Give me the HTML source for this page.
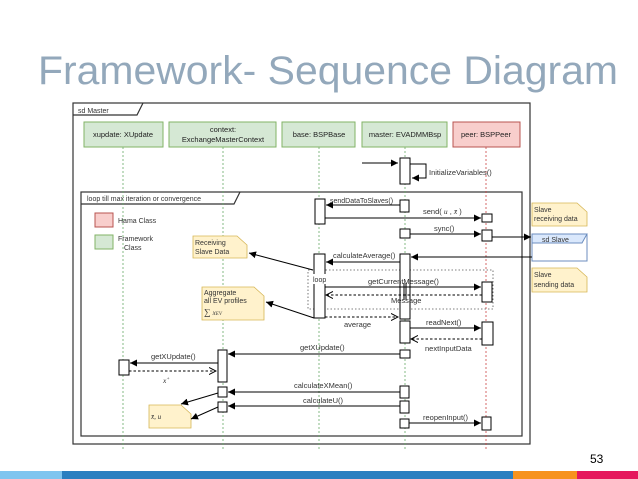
<!DOCTYPE html>
<html><head><meta charset="utf-8"><style>
body{margin:0;background:#fff;}
svg{display:block;font-family:"Liberation Sans",sans-serif;}
</style></head><body>
<svg width="638" height="479" viewBox="0 0 638 479" xmlns="http://www.w3.org/2000/svg">
<defs>
<marker id="a" markerWidth="8" markerHeight="8" refX="7" refY="4" orient="auto" markerUnits="userSpaceOnUse"><path d="M0,0.5 L7,4 L0,7.5z" fill="#000"/></marker>
<marker id="o" markerWidth="8" markerHeight="8" refX="7" refY="4" orient="auto" markerUnits="userSpaceOnUse"><path d="M0,0.5 L7,4 L0,7.5" fill="none" stroke="#000" stroke-width="1"/></marker>
</defs>
<text x="38" y="84" font-size="40" fill="#93a8bb" textLength="580" lengthAdjust="spacingAndGlyphs">Framework- Sequence Diagram</text>
<text x="590" y="463" font-size="12" fill="#000">53</text>
<rect x="0" y="471" width="62" height="8" fill="#7fc5ef"/>
<rect x="62" y="471" width="451" height="8" fill="#2a7fc0"/>
<rect x="513" y="471" width="64" height="8" fill="#f7931e"/>
<rect x="577" y="471" width="61" height="8" fill="#e5185d"/>

<g stroke="#333" fill="none" stroke-width="1.2">
<rect x="73" y="103" width="457" height="341"/>
<path d="M73,115 H137 L143,103"/>
<rect x="81" y="192" width="441" height="244"/>
<path d="M81,204 H234 L240,192"/>
</g>
<text x="78" y="113" font-size="7" fill="#333">sd Master</text>
<text x="87" y="201" font-size="7" fill="#333">loop till max iteration or convergence</text>

<g stroke-dasharray="2,2" stroke-width="0.8">
<line x1="123" y1="147" x2="123" y2="450" stroke="#6a6"/>
<line x1="223" y1="147" x2="223" y2="450" stroke="#6a6"/>
<line x1="319" y1="147" x2="319" y2="450" stroke="#6a6"/>
<line x1="405" y1="147" x2="405" y2="450" stroke="#6a6"/>
<line x1="486" y1="147" x2="486" y2="450" stroke="#c44"/>
</g>

<g stroke="#82b366" fill="#d5e8d4" stroke-width="1">
<rect x="84" y="122" width="79" height="25"/>
<rect x="169" y="122" width="107" height="25"/>
<rect x="282" y="122" width="73" height="25"/>
<rect x="362" y="122" width="85" height="25"/>
</g>
<rect x="453" y="122" width="67" height="25" fill="#f8cecc" stroke="#b85450"/>
<g font-size="7.5" fill="#222" text-anchor="middle">
<text x="123" y="137">xupdate: XUpdate</text>
<text x="223" y="132">context:</text>
<text x="223" y="142">ExchangeMasterContext</text>
<text x="319" y="137">base: BSPBase</text>
<text x="405" y="137">master: EVADMMBsp</text>
<text x="486" y="137">peer: BSPPeer</text>
</g>

<rect x="95" y="213" width="18" height="14" fill="#f8cecc" stroke="#b85450"/>
<rect x="95" y="235" width="18" height="14" fill="#d5e8d4" stroke="#82b366"/>
<g font-size="7" fill="#333">
<text x="118" y="223">Hama Class</text>
<text x="118" y="241">Framework</text>
<text x="124" y="250">Class</text>
</g>

<g fill="#fff2cc" stroke="#d6b656" stroke-width="0.8">
<path d="M193,236 H237 L247,245 V258 H193z"/>
<path d="M202,287 H254 L264,296 V320 H202z"/>
<path d="M149,405 H181 L191,414 V428 H149z"/>
<path d="M532,203 H577 L587,212 V226 H532z"/>
<path d="M532,268 H577 L587,277 V292 H532z"/>
</g>
<g font-size="7" fill="#333">
<text x="195" y="245">Receiving</text><text x="195" y="254">Slave Data</text>
<text x="204" y="295">Aggregate</text><text x="204" y="303">all EV profiles</text>
<text x="204" y="315" font-family="Liberation Serif" font-size="9">∑ <tspan font-style="italic" font-size="7">x<tspan font-size="5">EV</tspan></tspan></text>
<text x="151" y="419" font-family="Liberation Serif" font-style="italic">x̄, u</text>
<text x="534" y="212">Slave</text><text x="534" y="221">receiving data</text>
<text x="534" y="277">Slave</text><text x="534" y="287">sending data</text>
</g>

<rect x="532" y="234" width="55" height="27" fill="#fff" stroke="#6c8ebf"/>
<path d="M532,234 H587 L582,243 H532z" fill="#dae8fc" stroke="#6c8ebf"/>
<text x="542" y="242" font-size="7" fill="#333">sd Slave</text>

<rect x="308" y="270" width="185" height="39" fill="none" stroke="#555" stroke-dasharray="1.5,2" stroke-width="0.8"/>

<g fill="#fff" stroke="#000" stroke-width="1">
<rect x="400" y="158" width="10" height="26"/>
<rect x="400" y="200" width="9" height="12"/>
<rect x="315" y="199" width="10" height="25"/>
<rect x="482" y="214" width="10" height="8"/>
<rect x="400" y="229" width="10" height="9"/>
<rect x="482" y="230" width="10" height="11"/>
<rect x="400" y="254" width="10" height="65"/>
<rect x="314" y="254" width="11" height="64"/>
<rect x="482" y="282" width="10" height="20"/>
<rect x="400" y="321" width="10" height="22"/>
<rect x="482" y="322" width="11" height="23"/>
<rect x="400" y="350" width="10" height="8"/>
<rect x="218" y="350" width="9" height="32"/>
<rect x="119" y="360" width="10" height="15"/>
<rect x="218" y="387" width="9" height="10"/>
<rect x="400" y="386" width="9" height="12"/>
<rect x="218" y="402" width="9" height="10"/>
<rect x="400" y="401" width="9" height="12"/>
<rect x="400" y="419" width="9" height="9"/>
<rect x="482" y="417" width="9" height="13"/>
</g>
<line x1="404" y1="283" x2="404" y2="300" stroke="#000"/>
<line x1="406" y1="283" x2="406" y2="300" stroke="#000"/>
<rect x="310" y="274" width="21" height="10" fill="#fff"/>
<text x="313" y="282" font-size="7" fill="#333">loop</text>

<g stroke="#000" stroke-width="1" fill="none">
<line x1="362" y1="163" x2="398" y2="163" marker-end="url(#a)"/>
<path d="M410,164 H426 V178 H412" marker-end="url(#a)"/>
<line x1="400" y1="205" x2="326" y2="205" marker-end="url(#a)"/>
<line x1="325" y1="218" x2="481" y2="218" marker-end="url(#a)"/>
<line x1="410" y1="234" x2="481" y2="234" marker-end="url(#a)"/>
<line x1="492" y1="237" x2="531" y2="237" marker-end="url(#a)"/>
<line x1="532" y1="257" x2="411" y2="257" marker-end="url(#a)"/>
<line x1="400" y1="262" x2="326" y2="262" marker-end="url(#a)"/>
<line x1="325" y1="287" x2="481" y2="287" marker-end="url(#a)"/>
<line x1="410" y1="328" x2="481" y2="328" marker-end="url(#a)"/>
<line x1="400" y1="354" x2="228" y2="354" marker-end="url(#a)"/>
<line x1="218" y1="363" x2="130" y2="363" marker-end="url(#a)"/>
<line x1="400" y1="392" x2="228" y2="392" marker-end="url(#a)"/>
<line x1="400" y1="406" x2="228" y2="406" marker-end="url(#a)"/>
<line x1="409" y1="423" x2="481" y2="423" marker-end="url(#a)"/>
<line x1="218" y1="393" x2="181" y2="404" marker-end="url(#a)"/>
<line x1="218" y1="407" x2="191" y2="419" marker-end="url(#a)"/>
<line x1="313" y1="270" x2="249" y2="253" marker-end="url(#a)"/>
<line x1="314" y1="318" x2="266" y2="302" marker-end="url(#a)"/>
</g>
<g stroke="#000" stroke-width="1" fill="none" stroke-dasharray="2.5,2">
<line x1="482" y1="295" x2="326" y2="295" marker-end="url(#o)"/>
<line x1="325" y1="317" x2="398" y2="317" marker-end="url(#o)"/>
<line x1="482" y1="339" x2="411" y2="339" marker-end="url(#o)"/>
<line x1="129" y1="371" x2="216" y2="371" marker-end="url(#o)"/>
</g>
<g font-size="7.5" fill="#333">
<text x="429" y="175">InitializeVariables()</text>
<text x="330" y="203" font-size="7">sendDataToSlaves()</text>
<text x="423" y="214">send( <tspan font-style="italic" font-family="Liberation Serif">u</tspan> , <tspan font-style="italic" font-family="Liberation Serif">x̄</tspan> )</text>
<text x="434" y="231">sync()</text>
<text x="333" y="258">calculateAverage()</text>
<text x="368" y="284">getCurrentMessage()</text>
<text x="391" y="303">Message</text>
<text x="344" y="327">average</text>
<text x="426" y="325">readNext()</text>
<text x="425" y="351">nextInputData</text>
<text x="300" y="350">getXUpdate()</text>
<text x="151" y="359">getXUpdate()</text>
<text x="163" y="383" font-family="Liberation Serif" font-style="italic">x<tspan font-size="5" dy="-3">+</tspan></text>
<text x="294" y="388">calculateXMean()</text>
<text x="303" y="403">calculateU()</text>
<text x="423" y="420">reopenInput()</text>
</g>
</svg>
</body></html>
